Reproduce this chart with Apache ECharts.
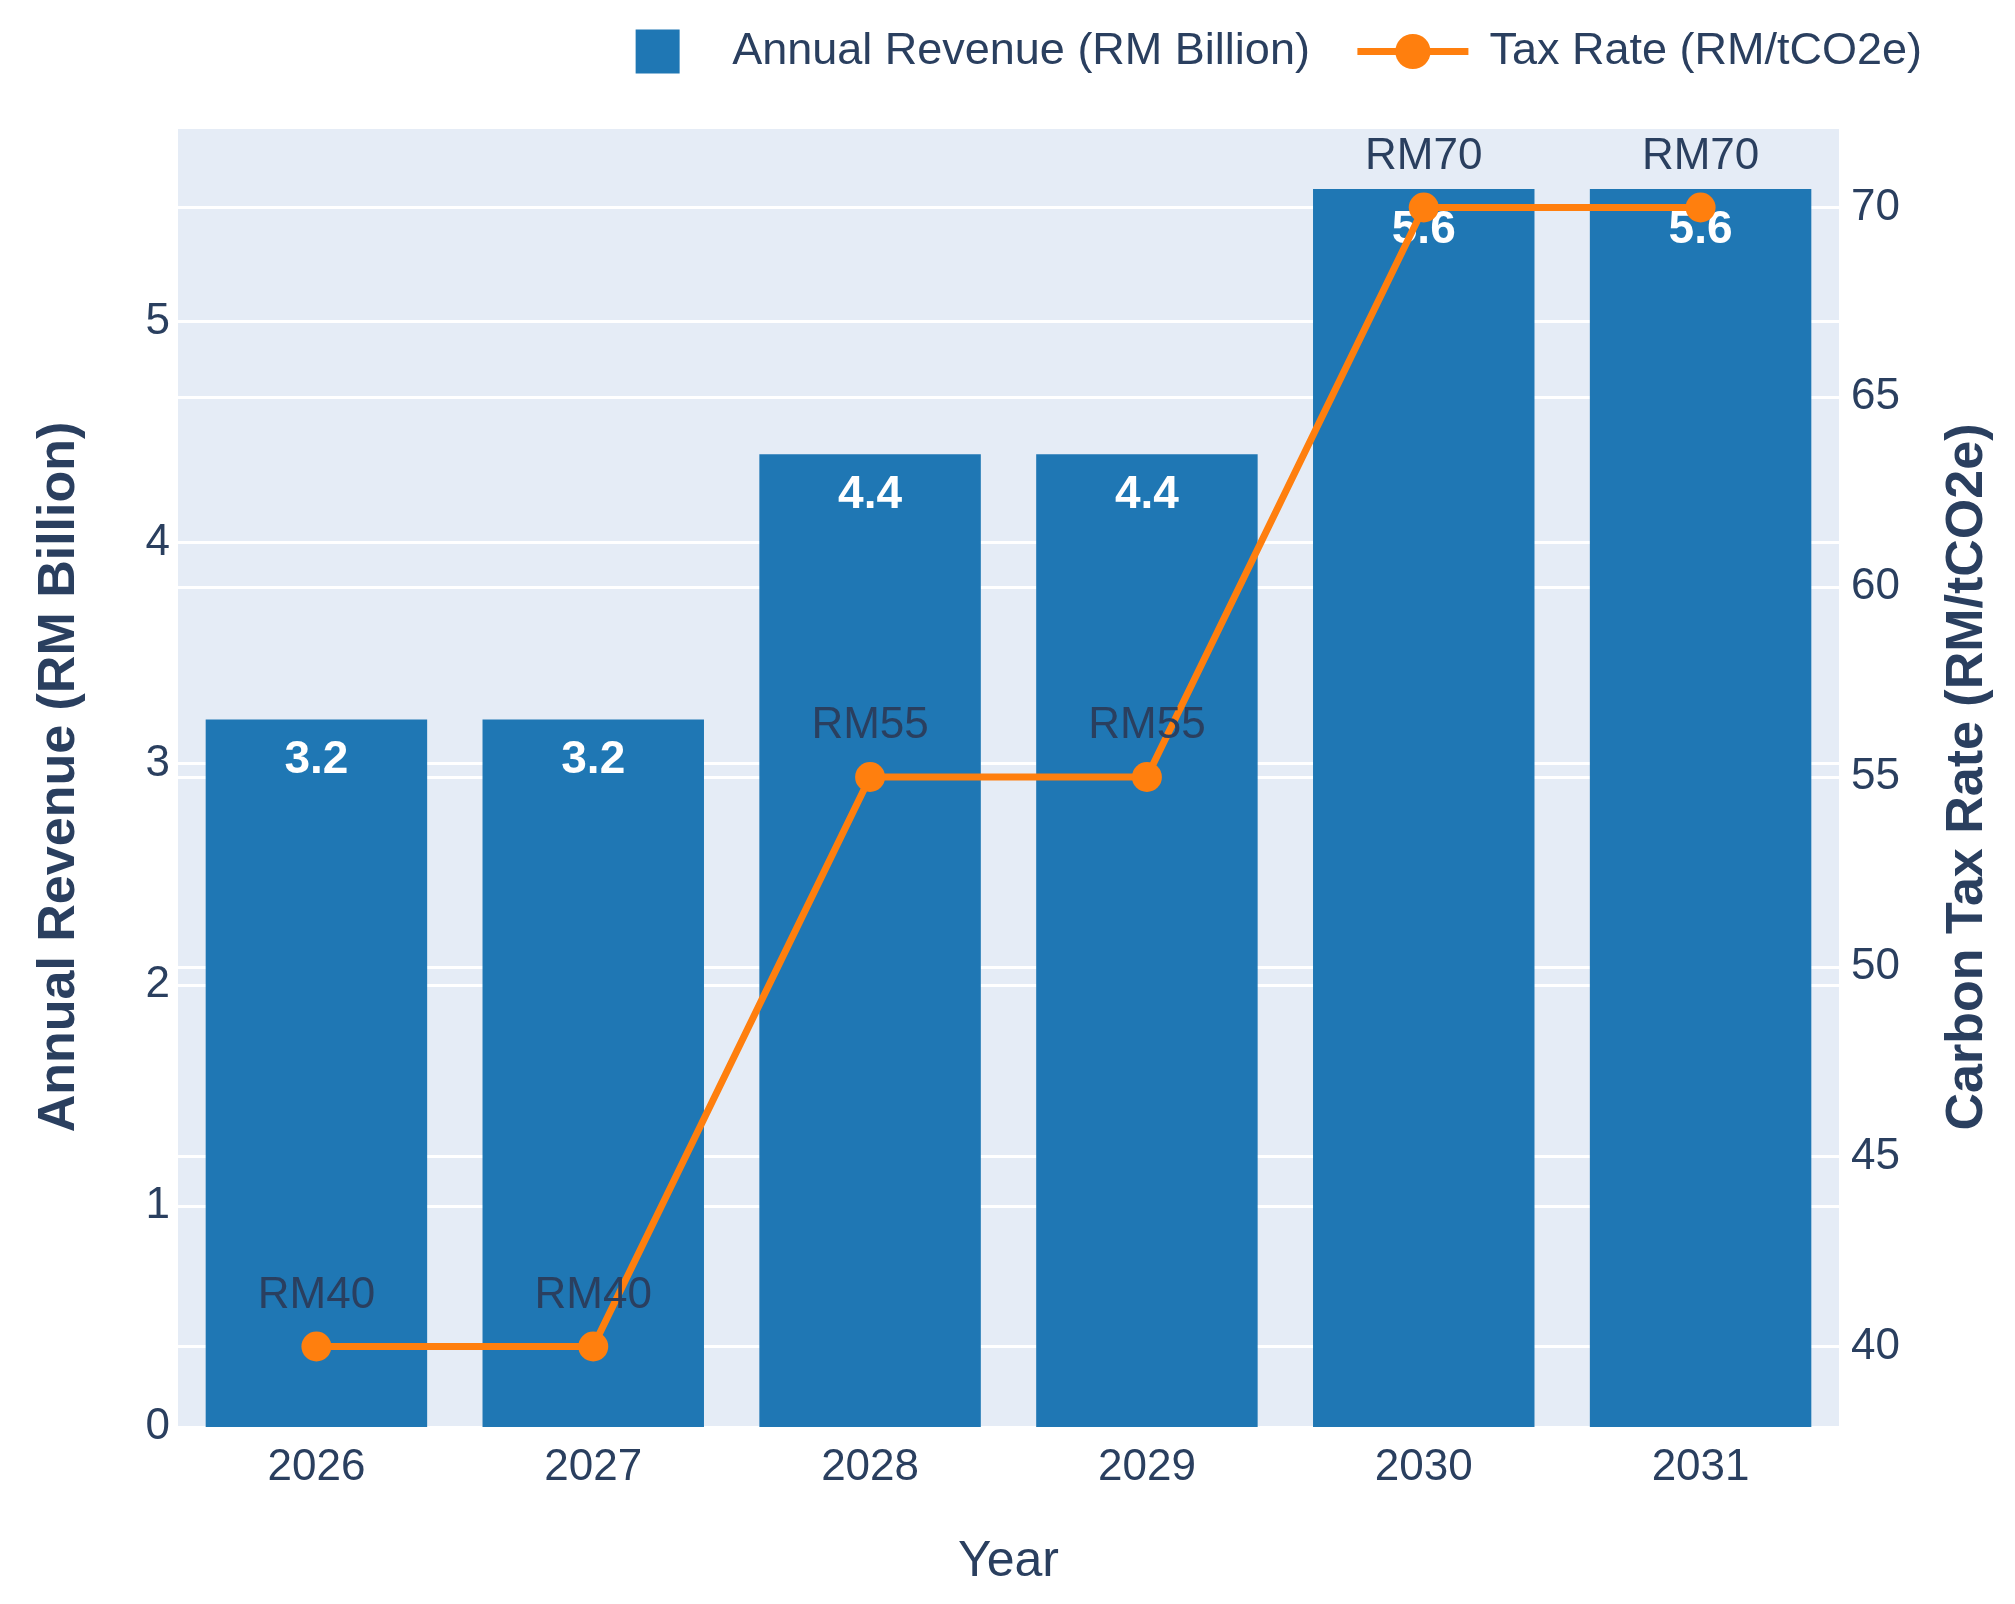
<!DOCTYPE html>
<html>
<head>
<meta charset="utf-8">
<script src="https://cdn.jsdelivr.net/npm/echarts@6/dist/echarts.min.js"></script>
<style>
html,body{margin:0;padding:0;background:#fff;}
#chart{width:2015px;height:1604px;}
</style>
</head>
<body>
<div id="chart"></div>
<script>
const years = ['2026', '2027', '2028', '2029', '2030', '2031'];
const revenue = [3.2, 3.2, 4.4, 4.4, 5.6, 5.6];
const taxRate = [40, 40, 55, 55, 70, 70];
const revenueName = 'Annual Revenue (RM Billion)';
const taxName = 'Tax Rate (RM/tCO2e)';
const leftAxisTitle = 'Annual Revenue (RM Billion)';
const rightAxisTitle = 'Carbon Tax Rate (RM/tCO2e)';
const xAxisTitle = 'Year';

const FONT = 'Liberation Sans, Arial, sans-serif';
const TXT = '#2a3f5f';

const chart = echarts.init(document.getElementById('chart'), null, {renderer: 'canvas'});
chart.setOption({
  backgroundColor: '#ffffff',
  textStyle: {fontFamily: FONT},
  legend: {
    right: 88,
    top: 24,
    itemWidth: 111,
    itemHeight: 44,
    itemGap: 44,
    textStyle: {fontFamily: FONT, fontSize: 45, color: TXT},
    data: [
      {name: revenueName, icon: 'path://M0,0L1,0L1,1L0,1Z', textStyle: {padding: [0, 0, 0, 14]}},
      {name: taxName, lineStyle: {width: 7}, textStyle: {padding: [0, 0, 0, 16]}}
    ]
  },
  grid: {
    left: 178,
    right: 176,
    top: 127,
    bottom: 177,
    show: true,
    backgroundColor: '#E5ECF6',
    borderWidth: 0
  },
  xAxis: {
    type: 'category',
    data: years,
    name: xAxisTitle,
    nameLocation: 'middle',
    nameGap: 110,
    nameTextStyle: {fontFamily: FONT, fontSize: 50, color: TXT},
    axisLine: {show: false},
    axisTick: {show: false},
    axisLabel: {fontFamily: FONT, fontSize: 44, color: TXT, margin: 19},
    splitLine: {show: false}
  },
  yAxis: [
    {
      type: 'value',
      min: 0,
      max: 5.88,
      interval: 1,
      name: leftAxisTitle,
      nameLocation: 'middle',
      nameGap: 92,
      nameTextStyle: {fontFamily: FONT, fontSize: 52, fontWeight: 'bold', color: TXT},
      axisLine: {show: false},
      axisTick: {show: false},
      axisLabel: {fontFamily: FONT, fontSize: 44, color: TXT, margin: 8, showMaxLabel: false},
      splitLine: {show: true, lineStyle: {color: '#ffffff', width: 3}}
    },
    {
      type: 'value',
      min: 37.88,
      max: 72.12,
      position: 'right',
      name: rightAxisTitle,
      nameLocation: 'middle',
      nameGap: 103,
      nameRotate: 90,
      nameTextStyle: {fontFamily: FONT, fontSize: 52, fontWeight: 'bold', color: TXT},
      axisLine: {show: false},
      axisTick: {show: false},
      axisLabel: {fontFamily: FONT, fontSize: 44, color: TXT, margin: 12, showMinLabel: false, showMaxLabel: false},
      splitLine: {show: true, lineStyle: {color: '#ffffff', width: 3}}
    }
  ],
  series: [
    {
      name: revenueName,
      type: 'bar',
      yAxisIndex: 0,
      data: revenue,
      barCategoryGap: '20%',
      itemStyle: {color: '#1f77b4'},
      label: {
        show: true,
        position: 'insideTop',
        distance: 18,
        formatter: '{c}',
        fontFamily: FONT,
        fontSize: 46,
        fontWeight: 'bold',
        color: '#ffffff'
      },
      z: 2
    },
    {
      name: taxName,
      type: 'line',
      yAxisIndex: 1,
      data: taxRate,
      symbol: 'circle',
      symbolSize: 30,
      lineStyle: {color: '#ff7f0e', width: 7},
      itemStyle: {color: '#ff7f0e'},
      label: {
        show: true,
        position: 'top',
        distance: 14,
        formatter: 'RM{c}',
        fontFamily: FONT,
        fontSize: 44,
        color: TXT
      },
      z: 3
    }
  ]
});
</script>
</body>
</html>
